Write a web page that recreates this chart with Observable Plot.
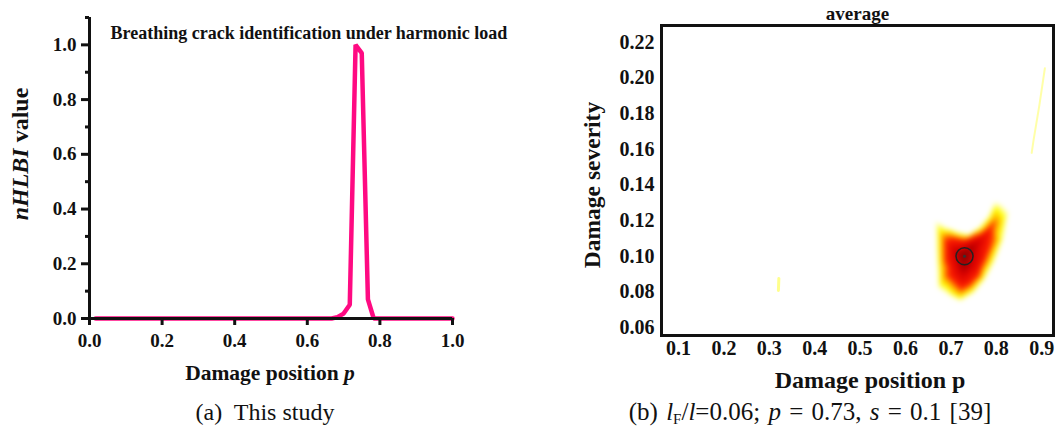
<!DOCTYPE html>
<html>
<head>
<meta charset="utf-8">
<script src="https://cdn.jsdelivr.net/npm/d3@7"></script>
<script src="https://cdn.jsdelivr.net/npm/@observablehq/plot@0.6"></script>
<style>
  html, body { margin: 0; padding: 0; background: #fff; }
  #page { position: relative; width: 1055px; height: 430px; overflow: hidden; background: #fff; font-family: "Liberation Serif", "Times New Roman", serif; }
  #left { position: absolute; left: 0; top: 0; }
  #right { position: absolute; left: 560px; top: 0; }
  .cap { position: absolute; top: 399px; line-height: 26px; text-align: center; color: #111; }
  .cap sub { font-size: 15px; vertical-align: -4px; line-height: 0; }
</style>
</head>
<body>
<div id="page">
  <div id="left"></div>
  <div id="right"></div>
  <div class="cap" style="left:0;width:530px;font-size:24px;">(a)&nbsp; This study</div>
  <div class="cap" style="left:560px;width:500px;font-size:25px;word-spacing:2px;">(b) <i>l</i><sub>F</sub>/<i>l</i>=0.06; <i>p</i> = 0.73, <i>s</i> = 0.1 [39]</div>
</div>
<script>
// ---------- Data (a): nHLBI curve ----------
const lineP = [0.017, 0.1, 0.2, 0.3, 0.4, 0.5, 0.6, 0.667, 0.683, 0.700, 0.717, 0.733, 0.750, 0.767, 0.783, 0.8, 0.9, 1.0];
const lineV = [0, 0, 0, 0, 0, 0, 0, 0, 0.005, 0.018, 0.05, 1.0, 0.97, 0.07, 0, 0, 0, 0];
const yMajorTicks = [0, 0.2, 0.4, 0.6, 0.8, 1.0];
const yMinorTicks = [0.1, 0.3, 0.5, 0.7, 0.9, 1.1];
const xMajorTicks = [0, 0.2, 0.4, 0.6, 0.8, 1.0];
const titleA = "Breathing crack identification under harmonic load";

// ---------- Data (b): "average" map (intensity) ----------
const heatP = [0.730, 0.722, 0.738, 0.750, 0.763, 0.775, 0.787, 0.797, 0.810, 0.705, 0.690, 0.678, 0.700, 0.725, 0.745, 0.728, 0.725, 0.722, 0.710, 0.690, 0.680, 0.750, 0.765, 0.780, 0.798, 0.760, 0.742, 0.690,
  0.666, 0.695, 0.720, 0.740, 0.760, 0.780, 0.797, 0.813, 0.828, 0.817, 0.797, 0.776, 0.750, 0.720, 0.694, 0.671, 0.669, 0.667,
  0.0625, 0.926, 0.0625, 0.926];
const heatS = [0.100, 0.101, 0.103, 0.106, 0.109, 0.112, 0.116, 0.121, 0.120, 0.104, 0.108, 0.113, 0.111, 0.108, 0.110, 0.092, 0.086, 0.080, 0.091, 0.089, 0.095, 0.094, 0.098, 0.103, 0.109, 0.089, 0.085, 0.098,
  0.120, 0.116, 0.1135, 0.1125, 0.116, 0.122, 0.131, 0.129, 0.125, 0.110, 0.097, 0.087, 0.079, 0.0745, 0.078, 0.082, 0.095, 0.108,
  0.0555, 0.0555, 0.2295, 0.2295];
const heatV = [1.0, 0.97, 0.95, 0.88, 0.8, 0.68, 0.52, 0.36, 0.25, 0.78, 0.52, 0.25, 0.42, 0.6, 0.55, 0.88, 0.68, 0.38, 0.68, 0.42, 0.25, 0.76, 0.66, 0.52, 0.36, 0.48, 0.52, 0.52,
  0, 0, 0, 0, 0, 0, 0, 0, 0, 0, 0, 0, 0, 0, 0, 0, 0, 0,
  0, 0, 0, 0];
const streak1P = [0.907, 0.895, 0.882, 0.878];
const streak1S = [0.2055, 0.185, 0.165, 0.158];
const streak2P = [0.321, 0.320];
const streak2S = [0.0875, 0.0808];
const markerP = [0.73];
const markerS = [0.10];
const xTicksB = [0.1, 0.2, 0.3, 0.4, 0.5, 0.6, 0.7, 0.8, 0.9];
const yTicksB = [0.06, 0.08, 0.10, 0.12, 0.14, 0.16, 0.18, 0.20, 0.22];
const titleB = "average";

const serif = "Liberation Serif, serif";

// ---------- Chart (a) ----------
const lineData = lineP.map((p, i) => ({p, v: lineV[i]}));
const tickFontA = {fontFamily: serif, fontSize: 19, fontWeight: "bold"};
const a = Plot.plot({
  width: 540, height: 395,
  marginLeft: 89, marginRight: 88, marginTop: 17, marginBottom: 77,
  x: {domain: [0, 1]},
  y: {domain: [0, 1.1]},
  style: {fontFamily: serif, fontSize: "19px", fontWeight: "bold", color: "#111", background: "#fff"},
  marks: [
    Plot.line(lineData, {x: "p", y: "v", stroke: "#ff0a82", strokeWidth: 4.5, strokeLinejoin: "miter"}),
    Plot.ruleX([0], {strokeWidth: 3, stroke: "#111"}),
    Plot.ruleY([0], {strokeWidth: 3, stroke: "#111"}),
    Plot.axisY(yMajorTicks, {tickSize: 8, tickPadding: 5, tickFormat: d3.format(".1f"), strokeWidth: 3, label: null, ...tickFontA}),
    Plot.axisY(yMinorTicks, {tickSize: 4, tickFormat: () => "", strokeWidth: 3, label: null}),
    Plot.axisX(xMajorTicks, {tickSize: 7, tickPadding: 8, tickFormat: d3.format(".1f"), strokeWidth: 3, label: null, ...tickFontA}),
    Plot.text([titleA], {frameAnchor: "top-left", dx: 21, dy: 9, textAnchor: "start", lineAnchor: "top", fontFamily: serif, fontSize: 18, fontWeight: "bold", fill: "#111"})
  ]
});
document.getElementById("left").appendChild(a);
{
  const s = d3.select(a);
  const yl = s.append("text").attr("transform", "translate(28,154) rotate(-90)")
    .attr("text-anchor", "middle").attr("font-size", 24).attr("font-weight", "bold").attr("font-family", serif).attr("fill", "#111");
  yl.append("tspan").attr("font-style", "italic").text("nHLBI");
  yl.append("tspan").text(" value");
  const xl = s.append("text").attr("x", 270).attr("y", 380)
    .attr("text-anchor", "middle").attr("font-size", 21.5).attr("font-weight", "bold").attr("font-family", serif).attr("fill", "#111");
  xl.append("tspan").text("Damage position ");
  xl.append("tspan").attr("font-style", "italic").text("p");
}

// ---------- Chart (b) ----------
const heat = heatP.map((p, i) => ({p, s: heatS[i], v: heatV[i]}));
const streak1 = streak1P.map((p, i) => ({p, s: streak1S[i]}));
const streak2 = streak2P.map((p, i) => ({p, s: streak2S[i]}));
const marker = markerP.map((p, i) => ({p, s: markerS[i]}));
const tickFontB = {fontFamily: serif, fontSize: 20, fontWeight: "bold"};
const b = Plot.plot({
  width: 495, height: 395,
  marginLeft: 101, marginRight: 2, marginTop: 25, marginBottom: 60,
  x: {domain: [0.0625, 0.926]},
  y: {domain: [0.0555, 0.2295]},
  color: {type: "linear", domain: [0, 0.06, 0.17, 0.32, 0.5, 0.8, 1], range: ["#ffffff", "#ffffa8", "#ffff00", "#ffb000", "#ff2000", "#d80000", "#850000"], clamp: true},
  style: {fontFamily: serif, fontSize: "20px", fontWeight: "bold", color: "#111", background: "#fff"},
  marks: [
    Plot.raster(heat, {x: "p", y: "s", fill: "v", interpolate: "barycentric", blur: 2}),
    Plot.line(streak1, {x: "p", y: "s", stroke: "#ffff60", strokeWidth: 2, strokeOpacity: 0.55}),
    Plot.line(streak2, {x: "p", y: "s", stroke: "#ffff40", strokeWidth: 3, strokeOpacity: 0.6, strokeLinecap: "round"}),
    Plot.dot(marker, {x: "p", y: "s", r: 8.5, stroke: "#222", strokeWidth: 1.5, fill: "none"}),
    Plot.dot(marker, {x: "p", y: "s", r: 1.5, fill: "#333", stroke: "none"}),
    Plot.frame({strokeWidth: 3, stroke: "#111"}),
    Plot.axisY(yTicksB, {tickSize: 0, tickPadding: 7, tickFormat: d3.format(".2f"), label: null, ...tickFontB}),
    Plot.axisX(xTicksB, {tickSize: 0, tickPadding: 5, tickFormat: d3.format(".1f"), label: null, ...tickFontB}),
    Plot.text([titleB], {frameAnchor: "top", dy: -6, lineAnchor: "bottom", fontFamily: serif, fontSize: 19, fontWeight: "bold", fill: "#111"})
  ]
});
document.getElementById("right").appendChild(b);
{
  const s = d3.select(b);
  s.append("text").attr("transform", "translate(40,185) rotate(-90)")
    .attr("text-anchor", "middle").attr("font-size", 23.5).attr("font-weight", "bold").attr("font-family", serif).attr("fill", "#111")
    .text("Damage severity");
  s.append("text").attr("x", 310).attr("y", 388)
    .attr("text-anchor", "middle").attr("font-size", 24).attr("font-weight", "bold").attr("font-family", serif).attr("fill", "#111")
    .text("Damage position p");
}
</script>
</body>
</html>
